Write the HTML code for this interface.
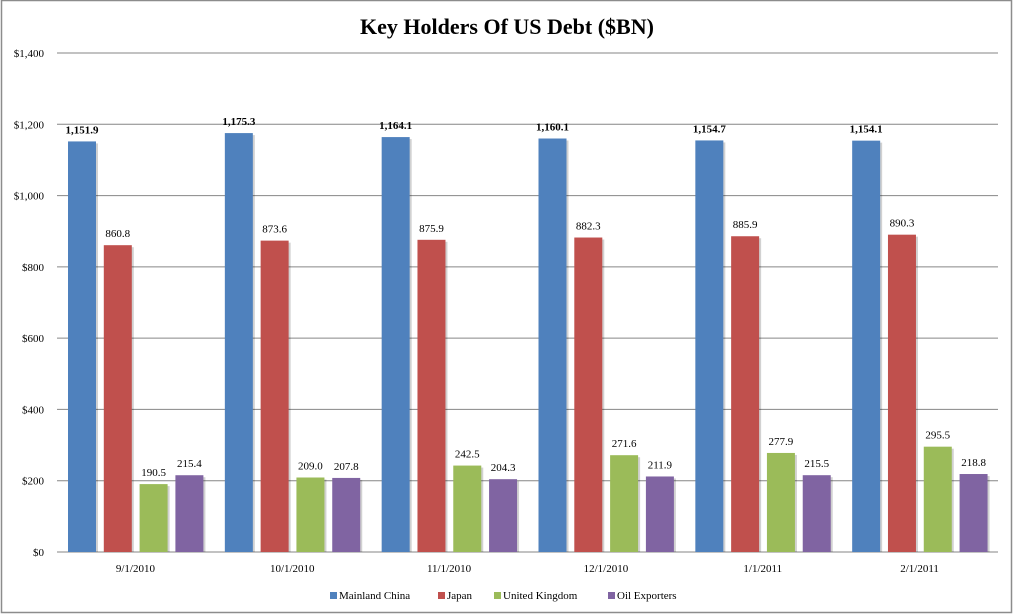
<!DOCTYPE html>
<html><head><meta charset="utf-8"><style>
html,body{margin:0;padding:0;background:#fff;}
svg{display:block;font-family:"Liberation Serif",serif;}
</style></head><body>
<svg id="c" width="1014" height="616" xmlns="http://www.w3.org/2000/svg">
<rect x="1.5" y="0.5" width="1010" height="612" fill="#fff" stroke="#8c8c8c" stroke-width="1.5"/>
<text x="507" y="34" text-anchor="middle" font-size="22" font-weight="bold">Key Holders Of US Debt ($BN)</text>
<g id="g"></g>
</svg>
<script>
var g=document.getElementById('g'),ns='http://www.w3.org/2000/svg';
function el(t,a,txt){var e=document.createElementNS(ns,t);for(var k in a)e.setAttribute(k,a[k]);if(txt!=null)e.textContent=txt;g.appendChild(e);return e;}
var y0=552,sc=(552-53)/1400,x0=57,gw=(998-57)/6;
for(var i=0;i<=7;i++){var v=i*200,y=y0-v*sc;
 el('line',{x1:57,x2:998,y1:y,y2:y,stroke:'#868686','stroke-width':1});
 el('text',{x:44,y:y+4,'text-anchor':'end','font-size':11},'$'+(v>=1000?'1,'+String(v-1000).padStart(3,'0'):v));}
var cats=['9/1/2010','10/1/2010','11/1/2010','12/1/2010','1/1/2011','2/1/2011'];
var data=[[1151.9,860.8,190.5,215.4],[1175.3,873.6,209.0,207.8],[1164.1,875.9,242.5,204.3],[1160.1,882.3,271.6,211.9],[1154.7,885.9,277.9,215.5],[1154.1,890.3,295.5,218.8]];
var cols=['#4f81bd','#c0504d','#9bbb59','#8064a2'];
function fmt(v){var s=v.toFixed(1);if(v>=1000)s=s[0]+','+s.slice(1);return s;}
for(var c=0;c<6;c++){var gx=x0+c*gw;
 for(var s=0;s<4;s++){var v=data[c][s],bx=gx+11+s*35.8,h=v*sc,by=y0-h;
  el('rect',{x:bx+2,y:by+2,width:28,height:h-2,fill:'#000',opacity:0.18});
  el('rect',{x:bx,y:by,width:28,height:h,fill:cols[s]});
  el('text',{x:bx+14,y:by-8,'text-anchor':'middle','font-size':11,'font-weight':s==0?'bold':'normal'},fmt(v));}
 el('text',{x:gx+gw/2,y:572,'text-anchor':'middle','font-size':11},cats[c]);}
var leg=[[330,'Mainland China'],[438,'Japan'],[494,'United Kingdom'],[608,'Oil Exporters']];
leg.forEach(function(l,i){el('rect',{x:l[0],y:592,width:7,height:7,fill:cols[i]});el('text',{x:l[0]+9,y:599,'font-size':11},l[1]);});
</script>
</body></html>
